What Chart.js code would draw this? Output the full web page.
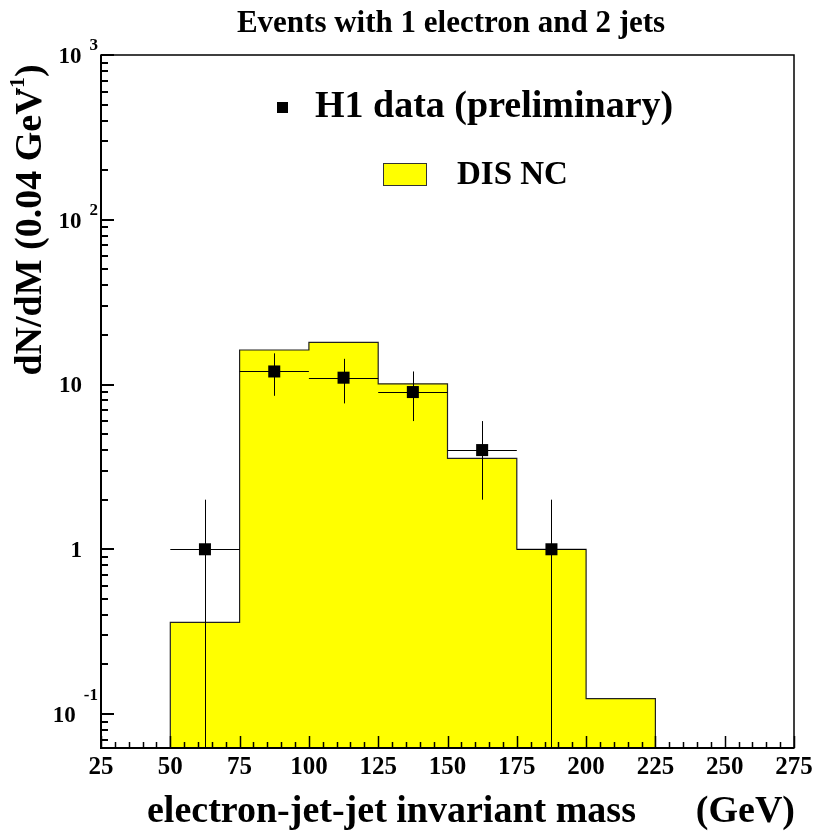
<!DOCTYPE html>
<html>
<head>
<meta charset="utf-8">
<script src="https://cdn.jsdelivr.net/npm/chart.js@4/dist/chart.umd.min.js"></script>
<style>
  body { margin: 0; background: #fff; }
  canvas { display: block; }
</style>
</head>
<body>
<canvas id="massChart" width="815" height="833"></canvas>
<script>
// Histogram (DIS NC Monte Carlo), bin edges in GeV
const binEdges = [50, 75, 100, 125, 150, 175, 200, 225];
const mcValues = [0.36, 16.2, 18.0, 10.1, 3.56, 1.0, 0.124];

// H1 data points with errors
const dataMass = [62.5, 87.5, 112.5, 137.5, 162.5, 187.5];
const dataCounts = [1, 12, 11, 9, 4, 1];
const dataErrLow = [1, 3.46, 3.32, 3, 2, 1];
const dataErrHigh = [1, 3.46, 3.32, 3, 2, 1];
const binHalfWidth = 12.5;

// Axes
const xMin = 25;
const xMax = 275;
const xMajorTicks = [25, 50, 75, 100, 125, 150, 175, 200, 225, 250, 275];
const yMin = 0.0622;
const yMax = 1000;
const yDecades = [0.1, 1, 10, 100, 1000];
const yLabels = [['10', '-1'], ['1', ''], ['10', ''], ['10', '2'], ['10', '3']];

const FONT = '"Liberation Serif", "Times New Roman", serif';

// Stegkurva: punkter vid vänsterkanter + avslutning
function histogramPoints() {
    const pts = [{ x: binEdges[0], y: yMin }];
    mcValues.forEach((v, i) => pts.push({ x: binEdges[i], y: v }));
    const last = binEdges[binEdges.length - 1];
    pts.push({ x: last, y: mcValues[mcValues.length - 1] });
    pts.push({ x: last, y: yMin });
    return pts;
}

const errorBars = {
    id: 'errorBars',
    beforeDatasetDraw(chart, args) {
        if (args.index !== 1) return;
        const ctx = chart.ctx;
        const xs = chart.scales.x, ys = chart.scales.y;
        const area = chart.chartArea;
        ctx.save();
        ctx.strokeStyle = '#000';
        ctx.lineWidth = 1;
        dataMass.forEach((m, i) => {
            const v = dataCounts[i];
            const py = ys.getPixelForValue(v);
            const px = xs.getPixelForValue(m);
            const lo = v - dataErrLow[i];
            const pyLo = lo > 0 ? ys.getPixelForValue(lo) : area.bottom;
            const pyHi = ys.getPixelForValue(v + dataErrHigh[i]);
            ctx.beginPath();
            ctx.moveTo(xs.getPixelForValue(m - binHalfWidth), Math.round(py) + 0.5);
            ctx.lineTo(xs.getPixelForValue(m + binHalfWidth), Math.round(py) + 0.5);
            ctx.moveTo(Math.round(px) + 0.5, pyHi);
            ctx.lineTo(Math.round(px) + 0.5, Math.min(pyLo, area.bottom));
            ctx.stroke();
        });
        ctx.restore();
    }
};

const frameAndText = {
    id: 'frameAndText',
    afterDraw(chart) {
        const ctx = chart.ctx;
        const a = chart.chartArea;
        const xs = chart.scales.x, ys = chart.scales.y;
        ctx.save();

        // ram
        ctx.strokeStyle = '#000';
        ctx.lineWidth = 1.5;
        ctx.strokeRect(a.left, a.top, a.right - a.left, a.bottom - a.top);
        ctx.lineWidth = 2;
        ctx.beginPath();
        ctx.moveTo(a.left, a.top);
        ctx.lineTo(a.left, a.bottom);
        ctx.lineTo(a.right, a.bottom);
        ctx.stroke();

        // x-ticks (inåt)
        ctx.lineWidth = 1.5;
        ctx.beginPath();
        for (let v = xMin; v <= xMax; v += 5) {
            const px = Math.round(xs.getPixelForValue(v)) + 0.5;
            const len = (v - xMin) % 25 === 0 ? 12 : 6;
            ctx.moveTo(px, a.bottom);
            ctx.lineTo(px, a.bottom - len);
        }
        ctx.stroke();

        // y-ticks (log), major vid dekader
        ctx.lineWidth = 2;
        ctx.beginPath();
        [0.01, 0.1, 1, 10, 100].forEach(d => {
            for (let k = 1; k <= 10; k++) {
                const v = d * k;
                if (v < yMin || v > yMax * 1.0001) continue;
                const py = Math.round(ys.getPixelForValue(v));
                const len = (k === 1 || k === 10) ? 13 : 7;
                ctx.moveTo(a.left, py);
                ctx.lineTo(a.left + len, py);
            }
        });
        ctx.stroke();

        ctx.fillStyle = '#000';
        // x-etiketter
        ctx.font = 'bold 25px ' + FONT;
        ctx.textAlign = 'center';
        ctx.textBaseline = 'middle';
        xMajorTicks.forEach(v => {
            ctx.fillText(String(v), xs.getPixelForValue(v), 768);
        });

        // y-etiketter med exponent
        yDecades.forEach((v, i) => {
            const py = ys.getPixelForValue(v);
            const base = yLabels[i][0], exp = yLabels[i][1];
            ctx.textBaseline = 'middle';
            ctx.textAlign = 'right';
            if (exp) {
                ctx.font = 'bold 17px ' + FONT;
                const expRight = a.left - 3;
                const ew = ctx.measureText(exp).width;
                const raise = exp.startsWith('-') ? 18 : 9;
                ctx.fillText(exp, expRight, py - raise);
                ctx.font = 'bold 23px ' + FONT;
                ctx.fillText(base, expRight - ew - 8, py + 2);
            } else {
                ctx.font = 'bold 23px ' + FONT;
                ctx.fillText(base, a.left - 19, py + 2);
            }
        });

        // titel
        ctx.font = 'bold 31px ' + FONT;
        ctx.textAlign = 'center';
        ctx.textBaseline = 'middle';
        ctx.fillText('Events with 1 electron and 2 jets', 451, 24);

        // x-axeltitel
        ctx.font = 'bold 38px ' + FONT;
        ctx.textAlign = 'left';
        ctx.fillText('electron-jet-jet invariant mass', 147, 812);
        ctx.textAlign = 'right';
        ctx.fillText('(GeV)', 795, 812);

        // y-axeltitel (roterad)
        ctx.save();
        ctx.translate(31, 220);
        ctx.rotate(-Math.PI / 2);
        ctx.textAlign = 'left';
        ctx.textBaseline = 'middle';
        ctx.font = 'bold 38px ' + FONT;
        const p1 = 'dN/dM (0.04 GeV';
        const p3 = ')';
        const w1 = ctx.measureText(p1).width;
        const w3 = ctx.measureText(p3).width;
        ctx.font = 'bold 22px ' + FONT;
        const w2 = ctx.measureText('-1').width;
        const total = w1 + w2 + w3 - 8;
        const x0 = -total / 2;
        ctx.font = 'bold 38px ' + FONT;
        ctx.fillText(p1, x0, 0);
        ctx.font = 'bold 22px ' + FONT;
        ctx.fillText('-1', x0 + w1 - 8, -13);
        ctx.font = 'bold 38px ' + FONT;
        ctx.fillText(p3, x0 + w1 + w2 - 8, 0);
        ctx.restore();

        // legend
        ctx.fillRect(277, 102, 11, 11);
        ctx.font = 'bold 38px ' + FONT;
        ctx.textAlign = 'left';
        ctx.textBaseline = 'middle';
        ctx.fillText('H1 data (preliminary)', 315, 107);
        ctx.fillStyle = '#ffff00';
        ctx.fillRect(383, 163, 44, 23);
        ctx.strokeStyle = '#333';
        ctx.lineWidth = 1;
        ctx.strokeRect(383.5, 163.5, 43, 22);
        ctx.fillStyle = '#000';
        ctx.font = 'bold 33px ' + FONT;
        ctx.fillText('DIS NC', 457, 175);

        ctx.restore();
    }
};

new Chart(document.getElementById('massChart').getContext('2d'), {
    data: {
        datasets: [
            {
                type: 'line',
                label: 'DIS NC',
                order: 2,
                data: histogramPoints(),
                stepped: true,
                fill: 'start',
                backgroundColor: '#ffff00',
                borderColor: '#222',
                borderWidth: 1.2,
                pointRadius: 0,
                tension: 0
            },
            {
                type: 'scatter',
                label: 'H1 data (preliminary)',
                order: 1,
                data: dataMass.map((m, i) => ({ x: m, y: dataCounts[i] })),
                pointStyle: 'rect',
                pointRadius: 8.5,
                backgroundColor: '#000',
                borderWidth: 0
            }
        ]
    },
    options: {
        responsive: false,
        animation: false,
        devicePixelRatio: 1,
        layout: { padding: { left: 101, right: 21, top: 55, bottom: 85 } },
        scales: {
            x: { type: 'linear', min: xMin, max: xMax, display: false },
            y: { type: 'logarithmic', min: yMin, max: yMax, display: false }
        },
        plugins: {
            legend: { display: false },
            tooltip: { enabled: false }
        }
    },
    plugins: [errorBars, frameAndText]
});
</script>
</body>
</html>
